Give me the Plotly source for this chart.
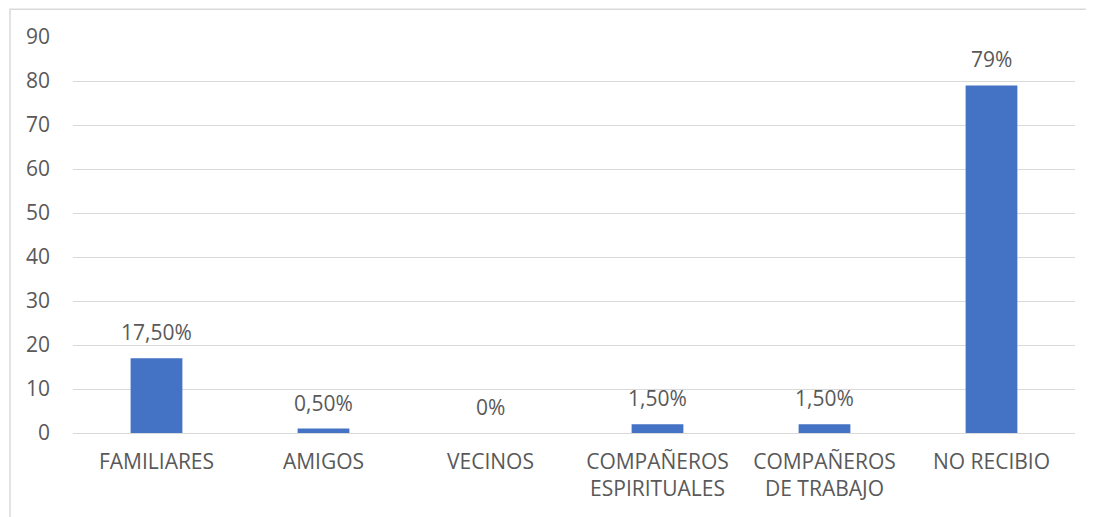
import plotly.graph_objects as go

categories = ["FAMILIARES", "AMIGOS", "VECINOS", "COMPAÑEROS<br>ESPIRITUALES",
              "COMPAÑEROS<br>DE TRABAJO", "NO RECIBIO"]
values = [17, 1, 0, 2, 2, 79]
labels = ["17,50%", "0,50%", "0%", "1,50%", "1,50%", "79%"]
y_ticks = [0, 10, 20, 30, 40, 50, 60, 70, 80, 90]

grey = "#595959"
font = dict(family="Open Sans", size=21, color=grey)

fig = go.Figure(go.Bar(
    x=categories, y=values, marker=dict(color="#4472C4", line=dict(width=0)),
))

# data labels sit a bit higher above the bars than plotly's "outside" text
for cat, val, lab in zip(categories, values, labels):
    fig.add_annotation(x=cat, y=val, text=lab, showarrow=False,
                       yanchor="middle", yshift=26, font=font)

fig.update_layout(
    width=1094, height=517,
    margin=dict(l=65, r=27, t=29, b=92),
    paper_bgcolor="white", plot_bgcolor="white",
    bargap=0.69, showlegend=False, font=font,
    # outer chart frame, cut off at right and bottom in the source image
    shapes=[dict(type="rect", xref="paper", yref="paper",
                 x0=-0.0629, x1=1.1, y0=-0.3, y1=1.07,
                 line=dict(color="#d9d9d9", width=1.5))],
)
fig.update_xaxes(tickfont=font, showline=False, ticks="", ticklabelstandoff=14)
fig.update_yaxes(range=[0, 90], tickvals=y_ticks, tickfont=font,
                 showgrid=True, gridcolor="#d9d9d9", gridwidth=1,
                 zeroline=True, zerolinecolor="#d9d9d9", zerolinewidth=1,
                 ticks="", ticklabelstandoff=22)

fig.write_html("out.html")
